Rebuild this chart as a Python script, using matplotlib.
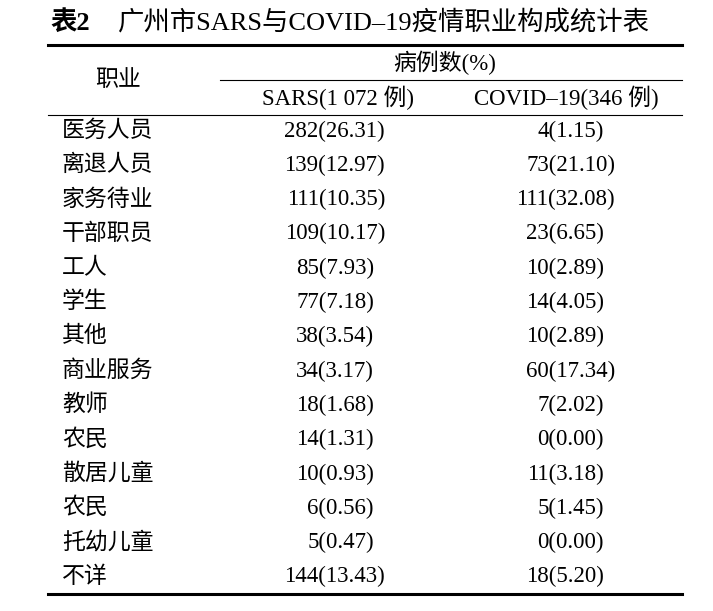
import matplotlib.pyplot as plt

plt.rcParams['font.family'] = ['Liberation Serif', 'Noto Sans CJK SC']

occupations = ['医务人员', '离退人员', '家务待业', '干部职员', '工人', '学生', '其他',
               '商业服务', '教师', '农民', '散居儿童', '农民', '托幼儿童', '不详']
sars_n = [282, 139, 111, 109, 85, 77, 38, 34, 18, 14, 10, 6, 5, 144]
sars_pct = [26.31, 12.97, 10.35, 10.17, 7.93, 7.18, 3.54, 3.17, 1.68, 1.31, 0.93, 0.56, 0.47, 13.43]
covid_n = [4, 73, 111, 23, 10, 14, 10, 60, 7, 0, 11, 5, 0, 18]
covid_pct = [1.15, 21.10, 32.08, 6.65, 2.89, 4.05, 2.89, 17.34, 2.02, 0.00, 3.18, 1.45, 0.00, 5.20]

fig = plt.figure(figsize=(7.13, 6.11), dpi=100)
ax = fig.add_axes([0, 0, 1, 1])
ax.set_xlim(0, 713)
ax.set_ylim(611, 0)
ax.axis('off')

fs = 16.5
# title
ax.text(50, 22, '表2', fontsize=19, fontweight='bold', va='center', ha='left')
ax.text(118, 22, '广州市SARS与COVID\u201319疫情职业构成统计表', fontsize=19, va='center', ha='left')

# rules
ax.plot([48, 682], [45, 45], color='black', lw=2.2)
ax.plot([220, 682], [80, 80], color='black', lw=0.8)
ax.plot([48, 682], [115, 115], color='black', lw=0.8)
ax.plot([48, 682], [594, 594], color='black', lw=2.2)

# header
ax.text(118, 80, '职业', fontsize=fs, va='center', ha='center')
ax.text(445, 63, '病例数(%)', fontsize=fs, va='center', ha='center')
ax.text(338, 98, 'SARS(1 072 例)', fontsize=fs, va='center', ha='center')
ax.text(566, 98, 'COVID\u201319(346 例)', fontsize=fs, va='center', ha='center')

y0, dy = 131, 34.3
for i, occ in enumerate(occupations):
    y = y0 + i * dy
    ax.text(62, y, occ, fontsize=fs, va='center', ha='left')
    xs = 385 - (11 if sars_pct[i] < 10 else 0)
    ax.text(xs, y, f'{sars_n[i]}({sars_pct[i]:.2f})', fontsize=fs, va='center', ha='right')
    xc = 615 - (11 if covid_pct[i] < 10 else 0)
    ax.text(xc, y, f'{covid_n[i]}({covid_pct[i]:.2f})', fontsize=fs, va='center', ha='right')

fig.savefig('out.png', dpi=100)
